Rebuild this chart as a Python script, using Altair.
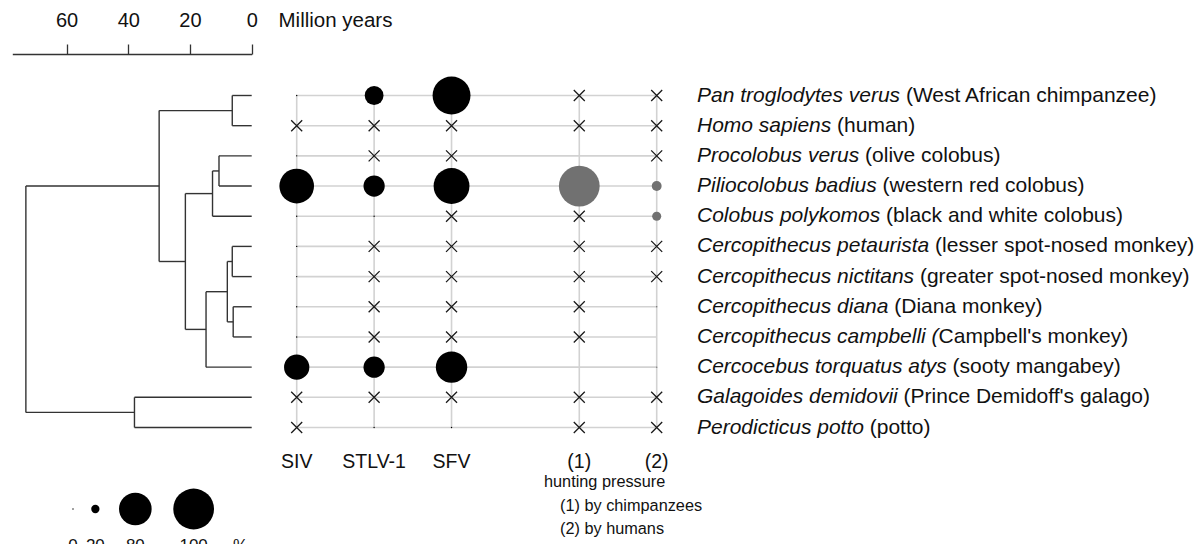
import math
import altair as alt
import pandas as pd

# ---------------- data ----------------
SPECIES_ITALIC = [
    "Pan troglodytes verus ", "Homo sapiens ", "Procolobus verus ",
    "Piliocolobus badius ", "Colobus polykomos ", "Cercopithecus petaurista ",
    "Cercopithecus nictitans ", "Cercopithecus diana ", "Cercopithecus campbelli (",
    "Cercocebus torquatus atys ", "Galagoides demidovii ", "Perodicticus potto ",
]
SPECIES_COMMON = [
    "(West African chimpanzee)", "(human)", "(olive colobus)",
    "(western red colobus)", "(black and white colobus)", "(lesser spot-nosed monkey)",
    "(greater spot-nosed monkey)", "(Diana monkey)", "Campbell's monkey)",
    "(sooty mangabey)", "(Prince Demidoff's galago)", "(potto)",
]
COLUMNS = ["SIV", "STLV-1", "SFV", "(1)", "(2)"]
COLUMN_KIND = ["virus", "virus", "virus", "hunting", "hunting"]
NT = "x"  # not tested -> cross
SIV = [0, NT, 0, 85, 0, 0, 0, 0, 0, 62, NT, NT]
STLV1 = [46, NT, NT, 52, 0, NT, NT, NT, NT, 52, NT, 0]
SFV = [93, NT, NT, 88, NT, NT, NT, NT, NT, 77, NT, 0]
HUNT_CHIMP = [NT, NT, None, 100, NT, NT, NT, NT, NT, None, NT, NT]
HUNT_HUMAN = [NT, NT, NT, 24, 22, NT, NT, 0, None, 0, NT, NT]
LEGEND_VALUES = [0, 20, 80, 100]
AXIS_MYR = [60, 40, 20, 0]
NOTES = ["hunting pressure", "(1) by chimpanzees", "(2) by humans"]
# (node, age in Myr, child a, child b); integer children are species rows
TREE_NODES = [
    ("hominini", 6.3, 0, 1),
    ("procolobini", 10.6, 2, 3),
    ("colobinae", 12.7, "procolobini", 4),
    ("pet_nic", 6.3, 5, 6),
    ("dia_cam", 6.0, 7, 8),
    ("cercopithecus", 7.9, "pet_nic", "dia_cam"),
    ("cercopithecinae", 14.8, "cercopithecus", 9),
    ("cercopithecidae", 21.5, "colobinae", "cercopithecinae"),
    ("catarrhini", 30.0, "hominini", "cercopithecidae"),
    ("lorisoidea", 38.0, 10, 11),
    ("root", 73.2, "catarrhini", "lorisoidea"),
]

# ---------------- layout / style ----------------
FONT = "Liberation Sans"
TXT = "#111111"
LINE = "#333333"
PLOT_W, PLOT_H = 1188, 536
ROW_SCALE = alt.Scale(domain=[0, 11], range=[87.5, 419.5], nice=False, zero=False)
MYR_SCALE = alt.Scale(domain=[77.6, 0], range=[4.3, 243.7], nice=False, zero=False)
COL_POS = [0, 1, 2, 3.65, 4.65]
COL_SCALE = alt.Scale(domain=[0, 4.65], range=[288.7, 648.7], nice=False, zero=False)
SIZE_RANGE = [2, 1662]
SIZE_SCALE = alt.Scale(type="pow", exponent=2, domain=[0, 100], range=SIZE_RANGE)
LABEL_X = 689
LABEL_FS = 21
# Arial / Liberation Sans advance widths (1/1000 em)
AW = {' ': 278, '(': 333, ')': 333, "'": 191, '-': 333, '.': 278,
      'A': 667, 'B': 667, 'C': 722, 'D': 722, 'E': 667, 'F': 611, 'G': 778, 'H': 722,
      'I': 278, 'J': 500, 'K': 667, 'L': 556, 'M': 833, 'N': 722, 'O': 778, 'P': 667,
      'Q': 778, 'R': 722, 'S': 667, 'T': 611, 'U': 722, 'V': 667, 'W': 944, 'X': 667,
      'Y': 667, 'Z': 611,
      'a': 556, 'b': 556, 'c': 500, 'd': 556, 'e': 556, 'f': 278, 'g': 556, 'h': 556,
      'i': 222, 'j': 222, 'k': 500, 'l': 222, 'm': 833, 'n': 556, 'o': 556, 'p': 556,
      'q': 556, 'r': 333, 's': 500, 't': 278, 'u': 556, 'v': 500, 'w': 722, 'x': 500,
      'y': 500, 'z': 500}


def text_width(s, fs):
    return sum(AW.get(ch, 556) for ch in s) * fs / 1000.0


# ---------------- tree segments ----------------
nodes = {n: (age, a, b) for n, age, a, b in TREE_NODES}
segs = []


def walk(key):
    if isinstance(key, int):
        return 0.0, float(key)
    age, a, b = nodes[key]
    aa, ya = walk(a)
    ab, yb = walk(b)
    segs.append({"x1": age, "x2": age, "y1": ya, "y2": yb})
    segs.append({"x1": age, "x2": aa, "y1": ya, "y2": ya})
    segs.append({"x1": age, "x2": ab, "y1": yb, "y2": yb})
    return age, (ya + yb) / 2.0


walk("root")
seg_df = pd.DataFrame(segs)

TOP_AXIS_Y = 46
tree = alt.Chart(seg_df).mark_rule(color=LINE, strokeWidth=1.4).encode(
    x=alt.X("x1:Q", scale=MYR_SCALE, axis=alt.Axis(
        orient="top", values=AXIS_MYR, offset=-TOP_AXIS_Y, tickSize=10, tickWidth=1.3,
        tickColor=LINE, domainColor=LINE, domainWidth=1.3, grid=False,
        labelFont=FONT, labelFontSize=20, labelColor=TXT, labelPadding=17.5,
        labelBaseline="alphabetic", labelFlush=False, labelOverlap=False,
        title="Million years", titleFont=FONT, titleFontSize=20.5,
        titleFontWeight="normal", titleColor=TXT, titleX=270, titleY=-27.5,
        titleAlign="left", titleBaseline="alphabetic", titleAngle=0)),
    x2="x2:Q",
    y=alt.Y("y1:Q", scale=ROW_SCALE, axis=None),
    y2="y2:Q",
)

# ---------------- grid ----------------
circ, cross = [], []
for ci, vals in enumerate([SIV, STLV1, SFV, HUNT_CHIMP, HUNT_HUMAN]):
    for r, v in enumerate(vals):
        if v is None:
            continue
        if v == NT:
            cross.append({"row": r, "pos": COL_POS[ci]})
        else:
            circ.append({"row": r, "pos": COL_POS[ci], "value": v, "kind": COLUMN_KIND[ci]})
circ_df = pd.DataFrame(circ)
cross_df = pd.DataFrame(cross)
h_df = pd.DataFrame({"row": list(range(len(SPECIES_ITALIC))),
                     "xa": COL_POS[0], "xb": COL_POS[-1]})
v_df = pd.DataFrame({"pos": COL_POS, "ya": 0, "yb": len(SPECIES_ITALIC) - 1})
col_df = pd.DataFrame({"pos": COL_POS, "name": COLUMNS})

GRID_C = "#d2d2d2"
hlines = alt.Chart(h_df).mark_rule(color=GRID_C, strokeWidth=1.6).encode(
    x=alt.X("xa:Q", scale=COL_SCALE, axis=None), x2="xb:Q",
    y=alt.Y("row:Q", scale=ROW_SCALE, axis=None))
vlines = alt.Chart(v_df).mark_rule(color=GRID_C, strokeWidth=1.6).encode(
    x=alt.X("pos:Q", scale=COL_SCALE, axis=None),
    y=alt.Y("ya:Q", scale=ROW_SCALE, axis=None), y2="yb:Q")
circles = alt.Chart(circ_df).mark_circle(opacity=1).encode(
    x=alt.X("pos:Q", scale=COL_SCALE, axis=None),
    y=alt.Y("row:Q", scale=ROW_SCALE, axis=None),
    size=alt.Size("value:Q", scale=SIZE_SCALE, legend=None),
    color=alt.Color("kind:N", scale=alt.Scale(domain=["virus", "hunting"],
                                              range=["#000000", "#717171"]), legend=None))
crosses = alt.Chart(cross_df).mark_point(
    shape="M-1,-1L1,1M-1,1L1,-1", filled=False, size=121, color="#1a1a1a",
    strokeWidth=1.3, opacity=1).encode(
    x=alt.X("pos:Q", scale=COL_SCALE, axis=None),
    y=alt.Y("row:Q", scale=ROW_SCALE, axis=None))
col_labels = alt.Chart(col_df).mark_text(
    align="center", baseline="alphabetic", font=FONT, fontSize=19.5, color=TXT).encode(
    x=alt.X("pos:Q", scale=COL_SCALE, axis=None), y=alt.value(460), text="name:N")
grid = alt.layer(hlines, vlines, circles, crosses, col_labels)

# ---------------- species labels ----------------
lab_df = pd.DataFrame({
    "row": list(range(len(SPECIES_ITALIC))),
    "italic": SPECIES_ITALIC,
    "common": SPECIES_COMMON,
    "cx": [LABEL_X + text_width(s, LABEL_FS) for s in SPECIES_ITALIC],
})
lab_it = alt.Chart(lab_df).mark_text(
    align="left", baseline="middle", font=FONT, fontSize=LABEL_FS,
    fontStyle="italic", color=TXT).encode(
    x=alt.value(LABEL_X), y=alt.Y("row:Q", scale=ROW_SCALE, axis=None), text="italic:N")
lab_cm = alt.Chart(lab_df).mark_text(
    align="left", baseline="middle", font=FONT, fontSize=LABEL_FS, color=TXT).encode(
    x=alt.X("cx:Q", scale=None, axis=None),
    y=alt.Y("row:Q", scale=ROW_SCALE, axis=None), text="common:N")

# ---------------- size legend ----------------
def area(v):
    return SIZE_RANGE[0] + (v / 100.0) ** 2 * (SIZE_RANGE[1] - SIZE_RANGE[0])


radii = [math.sqrt(area(v) / math.pi) for v in LEGEND_VALUES]
LEG_START, LEG_GAP = 65.0, 16.9
lx = [LEG_START]
for i in range(1, len(radii)):
    lx.append(lx[-1] + radii[i - 1] + LEG_GAP + radii[i])
leg_df = pd.DataFrame({"val": LEGEND_VALUES, "lx": lx})
leg_lab_df = pd.DataFrame({"lab": [str(v) for v in LEGEND_VALUES] + ["%"],
                           "lx": lx + [lx[-1] + 47]})
leg_c = alt.Chart(leg_df).mark_circle(color="#000000", opacity=1).encode(
    x=alt.X("lx:Q", scale=None, axis=None), y=alt.value(501),
    size=alt.Size("val:Q", scale=SIZE_SCALE, legend=None))
leg_t = alt.Chart(leg_lab_df).mark_text(
    baseline="top", align="center", font=FONT, fontSize=17, color=TXT).encode(
    x=alt.X("lx:Q", scale=None, axis=None), y=alt.value(529.7), text="lab:N")

# ---------------- notes ----------------
one = pd.DataFrame({"k": [0]})
note_pos = [(536, 478.7), (552, 502.7), (552, 526.0)]
notes = [alt.Chart(one).mark_text(align="left", baseline="alphabetic", font=FONT,
                                  fontSize=16.3, color=TXT, text=t).encode(
    x=alt.value(px), y=alt.value(py)) for t, (px, py) in zip(NOTES, note_pos)]

chart = alt.layer(tree, grid, lab_it, lab_cm, leg_c, leg_t, *notes).resolve_scale(
    x="independent"
).properties(
    width=PLOT_W, height=PLOT_H, padding=0,
    autosize=alt.AutoSizeParams(type="none"),
).configure_view(stroke=None)

chart.save("out.html", embed_options={"renderer": "svg", "actions": False})
